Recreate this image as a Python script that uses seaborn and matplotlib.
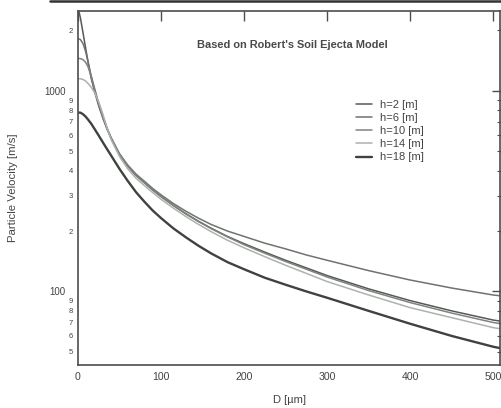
import numpy as np
import pandas as pd
import matplotlib
matplotlib.use("Agg")
import matplotlib.pyplot as plt
from matplotlib import ticker
from matplotlib.lines import Line2D
import seaborn as sns

# particle diameter D [um]
d_um = [0, 3, 6, 9, 12, 16, 20, 25, 30, 35, 40, 50, 60, 70, 80, 90, 100, 115, 130, 145,
        160, 180, 200, 225, 250, 275, 300, 350, 400, 450, 500, 510]

# particle velocity [m/s]
v_h2 = [2600, 2300, 1950, 1650, 1400, 1150, 990, 840, 730, 645, 577, 480, 420, 378, 348, 320,
        297, 268, 244, 224, 207, 188, 173, 157, 143, 131, 120, 103, 90, 80, 72, 71]
v_h6 = [1820, 1800, 1720, 1580, 1400, 1180, 1010, 855, 740, 652, 583, 486, 426, 384, 354, 326,
        303, 274, 251, 232, 216, 200, 188, 174, 163, 152, 143, 127, 114, 104, 96, 95]
v_h10 = [1450, 1448, 1430, 1390, 1320, 1180, 1030, 860, 738, 648, 578, 482, 421, 378, 348, 321,
         297, 268, 243, 223, 206, 187, 171, 155, 141, 129, 118, 101, 88, 78, 70, 69]
v_h14 = [1150, 1148, 1140, 1120, 1090, 1040, 980, 880, 765, 655, 570, 470, 408, 366, 337, 311,
         288, 260, 236, 216, 199, 180, 165, 149, 135, 123, 112, 96, 83, 74, 66, 65]
v_h18 = [780, 778, 765, 745, 720, 685, 645, 598, 553, 512, 475, 408, 355, 312, 280, 253,
         232, 206, 186, 169, 155, 140, 129, 117, 108, 100, 93, 80, 69, 60, 53, 52]

labels = ["h=2 [m]", "h=6 [m]", "h=10 [m]", "h=14 [m]", "h=18 [m]"]
series = [v_h2, v_h6, v_h10, v_h14, v_h18]
colors = ["#555a55", "#6e736e", "#7e837e", "#aeb2ae", "#3e433e"]
widths = [1.1, 1.1, 1.1, 1.1, 1.7]

sns.set_theme(style="white")
plt.rcParams["font.family"] = ["Liberation Sans", "DejaVu Sans"]

fig = plt.figure(figsize=(5.02, 4.08), dpi=100)
ax = fig.add_axes([78 / 502, 1 - 365 / 408, 422 / 502, 354 / 408])

for lab, vals, c, lw in zip(labels, series, colors, widths):
    df = pd.DataFrame({"D": d_um, "v": vals})
    sns.lineplot(data=df, x="D", y="v", ax=ax, color=c, linewidth=lw, label=lab)

ax.set_yscale("log")
ax.set_xlim(0, 508)
ax.set_ylim(43, 2500)
ax.set_xticks([0, 100, 200, 300, 400, 500])

ax.yaxis.set_major_locator(ticker.LogLocator(base=10, subs=[1.0]))
ax.yaxis.set_minor_locator(ticker.LogLocator(base=10, subs=np.arange(2, 10)))
ax.yaxis.set_major_formatter(ticker.FuncFormatter(lambda v, p: f"{v:.0f}"))
ax.yaxis.set_minor_formatter(ticker.FuncFormatter(lambda v, p: f"{int(round(v / 10 ** np.floor(np.log10(v))))}"))

axcol = "#4a4f4a"
for s in ax.spines.values():
    s.set_color(axcol)
    s.set_linewidth(1.2)

ax.tick_params(axis="x", which="major", direction="in", length=7, width=1.0, top=True,
               color=axcol, labelsize=7.6, labelcolor="#444", pad=5)
ax.tick_params(axis="y", which="major", direction="inout", length=12, width=1.0, right=True,
               color=axcol, labelsize=7, labelcolor="#444", pad=3)
ax.tick_params(axis="y", which="minor", direction="inout", length=5, width=0.8, right=True,
               color=axcol, labelsize=5.5, labelcolor="#444", pad=1)
ax.tick_params(axis="x", which="minor", bottom=False, top=False)

ax.set_xlabel("D [\u00b5m]", fontsize=8, color="#444")
ax.set_ylabel("Particle Velocity [m/s]", fontsize=8.2, color="#444")
ax.xaxis.set_label_coords(0.502, -0.085)
ax.yaxis.set_label_coords(-0.142, 0.5)

ax.text(0.509, 0.904, "Based on Robert's Soil Ejecta Model", transform=ax.transAxes,
        ha="center", va="center", fontsize=7.9, fontweight="bold", color="#4a4a4a")

ax.legend(loc="upper left", bbox_to_anchor=(0.634, 0.778), frameon=False, fontsize=8,
          handlelength=1.5, handletextpad=0.7, labelspacing=0.29, labelcolor="#444")

# page border line from the scan
fig.add_artist(Line2D([0.1, 1.0], [0.997, 0.997], color="#333", linewidth=1.8))

fig.savefig("out.png", dpi=100)
